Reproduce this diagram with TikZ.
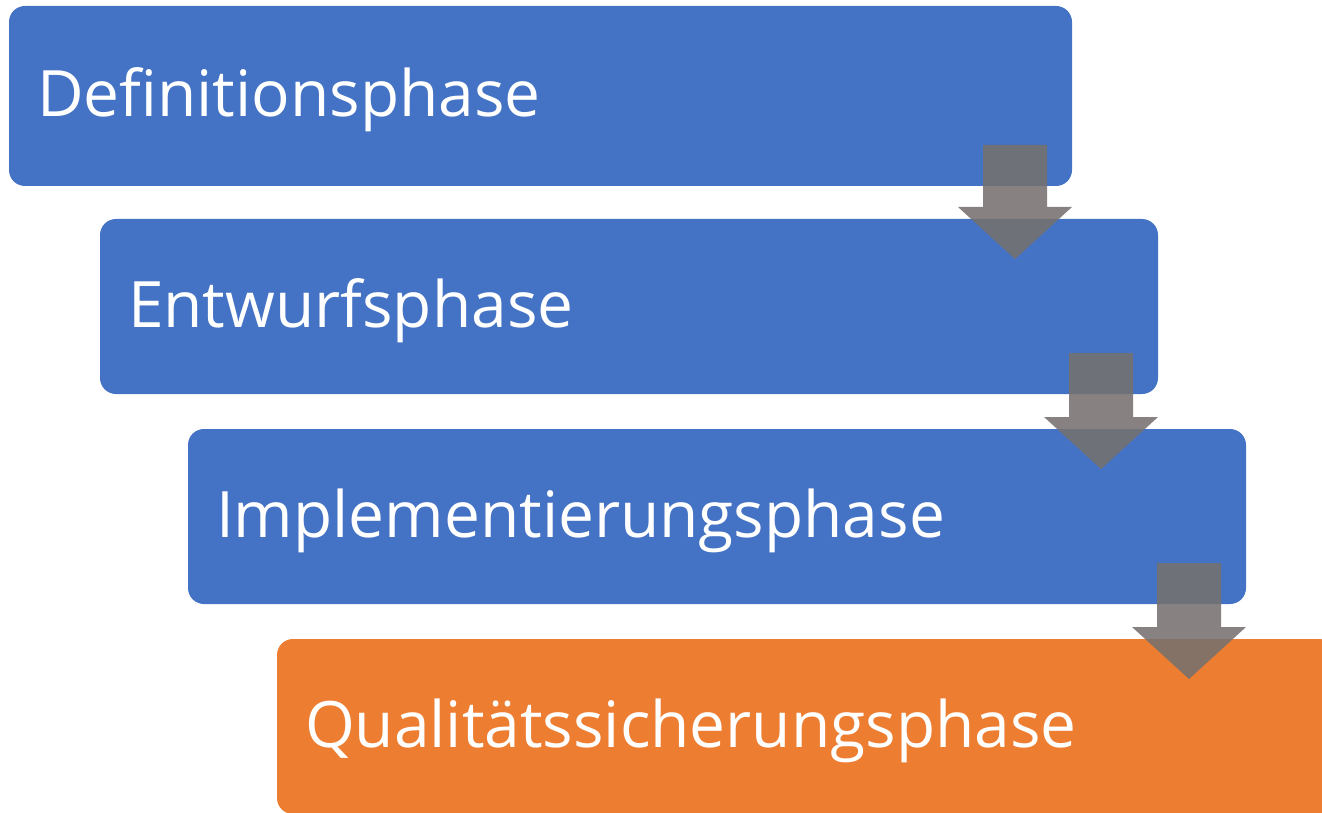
\documentclass[tikz,border=0pt]{standalone}
\usepackage{fontspec}
\setmainfont{Open Sans}
\usetikzlibrary{positioning,calc}
\definecolor{phaseblue}{HTML}{4472C4}
\definecolor{phaseorange}{HTML}{ED7D31}
\definecolor{arrowgray}{RGB}{118,113,111}

\begin{document}
\begin{tikzpicture}[
	phase/.style={rectangle,rounded corners=16pt,fill=phaseblue,text=white,
		outer sep=0pt,inner xsep=28pt,inner ysep=0pt,align=left,
		text height=50pt,text depth=8pt,
		font=\fontsize{64}{70}\selectfont},
	flowarrow/.style={fill=arrowgray,fill opacity=0.88}
	]
	\clip (0,0) rectangle (1322pt,-813pt);
	\node[phase,anchor=north west,text width=1007pt,minimum height=180pt] (def) at (9pt,-6pt) {Definitionsphase};
	\node[phase,below right=33pt and 91pt of def.south west,text width=1002pt,minimum height=175pt] (ent) {Entwurfsphase};
	\node[phase,below right=35pt and 88pt of ent.south west,text width=1002pt,minimum height=175pt] (imp) {Implementierungsphase};
	\node[phase,below right=35pt and 89pt of imp.south west,text width=1002pt,minimum height=175pt,fill=phaseorange] (qual) {Qualitätssicherungsphase};
	\foreach \from/\to/\n in {def/ent/1,ent/imp/2,imp/qual/3}{
		\coordinate (s\n) at ([xshift=-57pt,yshift=41pt]\from.south east);
		\coordinate (t\n) at ($(s\n |- \to.north)+(0,-40pt)$);
		\fill[flowarrow] ([xshift=-32pt]s\n) -- ([xshift=32pt]s\n) -- ([xshift=32pt,yshift=52pt]t\n) -- ([xshift=57pt,yshift=52pt]t\n)
			-- (t\n) -- ([xshift=-57pt,yshift=52pt]t\n) -- ([xshift=-32pt,yshift=52pt]t\n) -- cycle;
	}
\end{tikzpicture}
\end{document}
